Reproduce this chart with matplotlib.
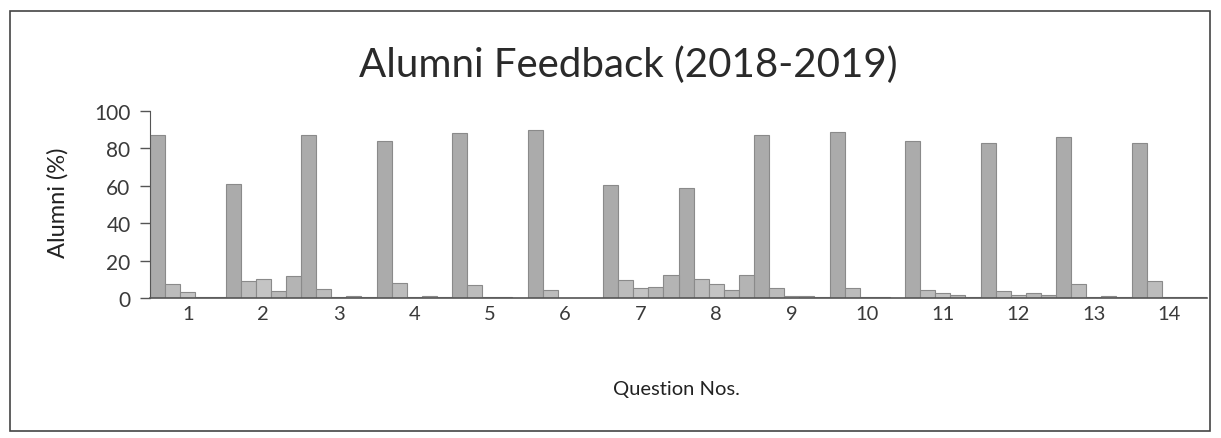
import matplotlib
matplotlib.use("Agg")
import matplotlib.pyplot as plt
import numpy as np
from matplotlib.patches import Rectangle

questions = [str(i) for i in range(1, 15)]
series_1 = [87, 61, 87, 84, 88, 90, 60.5, 59, 87, 89, 84, 83, 86, 83]
series_2 = [7.5, 9, 5, 8, 7, 4.5, 9.5, 10, 5.5, 5.5, 4.5, 4, 7.5, 9]
series_3 = [3, 10, 0.3, 0.5, 0.3, 0.2, 5.5, 7.5, 1, 0.3, 2.8, 1.5, 0.5, 0.5]
series_4 = [0.5, 3.5, 1, 1, 0.3, 0.2, 6, 4.5, 1, 0.3, 1.5, 2.8, 1, 0.5]
series_5 = [0.3, 12, 0.3, 0.5, 0.2, 0.2, 12.5, 12.5, 0.5, 0.2, 0.5, 1.5, 0.5, 0.3]
all_series = [series_1, series_2, series_3, series_4, series_5]
colors = ["#ababab", "#bcbcbc", "#c4c4c4", "#b8b8b8", "#b4b4b4"]

FONT = ["Lato", "DejaVu Sans"]

fig = plt.figure(figsize=(12.21, 4.39), dpi=100)
ax = fig.add_axes([150/1221, 1-299/439, (1207-150)/1221, (299-112)/439])

x = np.arange(len(questions))
n = len(all_series)
w = 1.0 / n
for i, s in enumerate(all_series):
    ax.bar(x - 0.5 + w*(i+0.5), s, width=w, color=colors[i],
           edgecolor="#8a8a8a", linewidth=0.8, zorder=2)

ax.set_xlim(-0.5, len(questions)-0.5)
ax.set_ylim(0, 100)
ax.set_yticks([0, 20, 40, 60, 80, 100])
ax.set_xticks(x)
ax.set_xticklabels(questions)
ax.tick_params(axis="x", length=0, pad=5, labelsize=14.5, labelcolor="#3a3a3a")
ax.tick_params(axis="y", length=7, width=1, color="#555555", direction="out",
               labelsize=15, labelcolor="#3a3a3a", pad=7)
for side in ["top", "right"]:
    ax.spines[side].set_visible(False)
ax.spines["left"].set_color("#555555")
ax.spines["bottom"].set_color("#555555")
ax.spines["bottom"].set_linewidth(1.2)

for lab in ax.get_xticklabels() + ax.get_yticklabels():
    lab.set_family(FONT)

fig.text(58/1221, 1-203/439, "Alumni (%)", ha="center", va="center", rotation=90,
         fontsize=17, color="#222222", family=FONT)
fig.text(676/1221, 1-390/439, "Question Nos.", ha="center", va="center", fontsize=14.5,
         color="#222222", family=FONT)
fig.text(628/1221, 1-65/439, "Alumni Feedback (2018-2019)", ha="center", va="center",
         fontsize=29, color="#2a2a2a", family=FONT)

fig.patches.append(Rectangle((10/1221, 1-432/439), 1200/1221, 420/439,
                             transform=fig.transFigure, fill=False,
                             edgecolor="#444444", linewidth=1.2))

fig.savefig("out.png", dpi=100, facecolor="white")
